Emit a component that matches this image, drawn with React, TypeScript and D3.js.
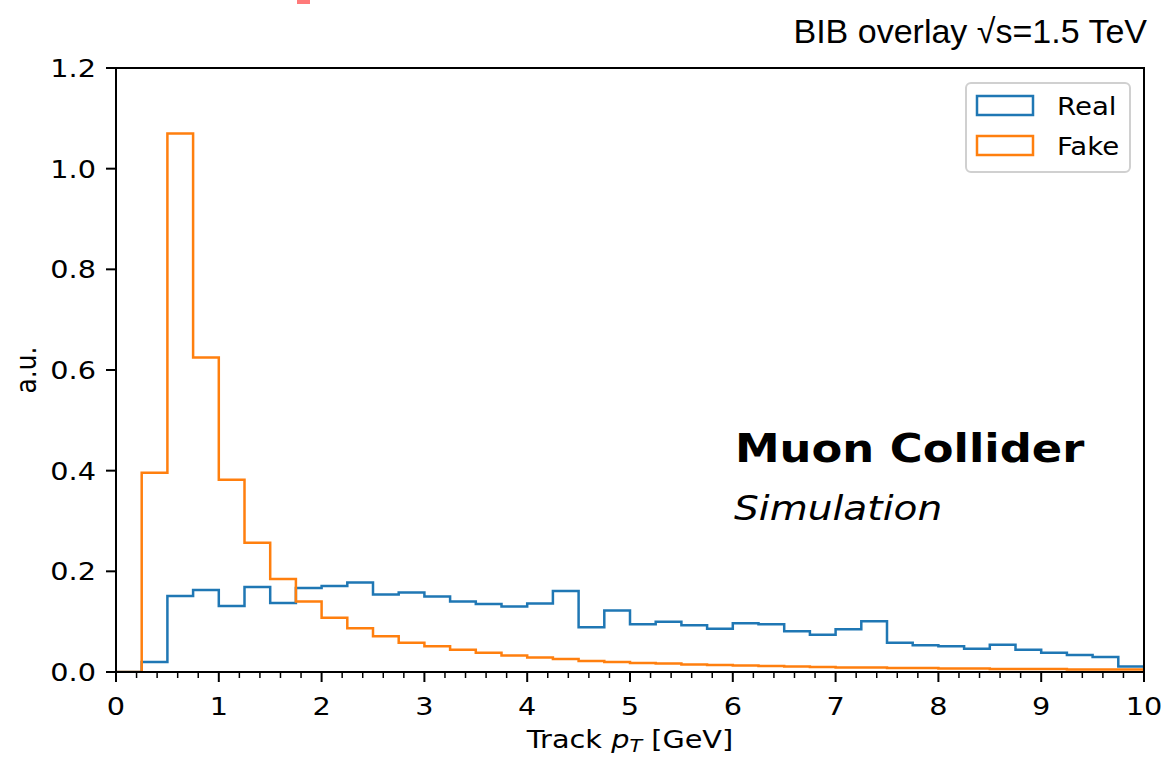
import React from "react";
import * as d3 from "d3";

// Histogram binning: 40 bins of width 0.25 GeV from 0 to 10 GeV
const binLow = 0;
const binWidth = 0.25;

// Normalised track pT distributions (a.u.), one value per bin
const realValues = [
  0, 0.02, 0.151, 0.163, 0.131, 0.169, 0.137, 0.167, 0.171, 0.178,
  0.154, 0.158, 0.15, 0.14, 0.135, 0.13, 0.136, 0.161, 0.089, 0.122,
  0.095, 0.1, 0.093, 0.086, 0.097, 0.095, 0.081, 0.074, 0.085, 0.101,
  0.058, 0.053, 0.051, 0.046, 0.054, 0.044, 0.038, 0.034, 0.03, 0.011,
];
const fakeValues = [
  0, 0.396, 1.07, 0.625, 0.382, 0.257, 0.185, 0.14, 0.108, 0.087,
  0.071, 0.058, 0.051, 0.044, 0.038, 0.033, 0.029, 0.026, 0.022, 0.02,
  0.018, 0.017, 0.015, 0.014, 0.013, 0.012, 0.011, 0.01, 0.009, 0.009,
  0.008, 0.008, 0.007, 0.007, 0.006, 0.006, 0.006, 0.005, 0.005, 0.005,
];

const xMajorTicks = [0, 1, 2, 3, 4, 5, 6, 7, 8, 9, 10];
const yTicks = [0, 0.2, 0.4, 0.6, 0.8, 1.0, 1.2];
const seriesNames = ["Real", "Fake"];

const W = 1162;
const H = 758;
const M = { left: 116, right: 1144, top: 68, bottom: 672 };
const SX = 1.15; // horizontal text stretch
const FONT = "'DejaVu Sans', sans-serif";
const BLUE = "#1f77b4";
const ORANGE = "#ff7f0e";

const x = d3.scaleLinear().domain([0, 10]).range([M.left, M.right]);
const y = d3.scaleLinear().domain([0, 1.2]).range([M.bottom, M.top]);

function stepPath(values: number[]): string {
  const pts: [number, number][] = [];
  pts.push([binLow, 0]);
  values.forEach((v, i) => {
    const x0 = binLow + i * binWidth;
    pts.push([x0, v]);
    pts.push([x0 + binWidth, v]);
  });
  pts.push([binLow + values.length * binWidth, 0]);
  const line = d3
    .line<[number, number]>()
    .x((d) => x(d[0]))
    .y((d) => y(d[1]));
  return line(pts) || "";
}

function Txt(props: {
  x: number;
  y: number;
  size: number;
  anchor?: "start" | "middle" | "end";
  weight?: string;
  italic?: boolean;
  rotate?: number;
  children: React.ReactNode;
}) {
  const { rotate = 0 } = props;
  return (
    <text
      transform={`translate(${props.x},${props.y}) scale(${SX},1)${rotate ? ` rotate(${rotate})` : ""}`}
      textAnchor={props.anchor || "start"}
      fontFamily={FONT}
      fontSize={props.size}
      fontWeight={props.weight || "normal"}
      fontStyle={props.italic ? "italic" : "normal"}
      fill="#000"
    >
      {props.children}
    </text>
  );
}

export default function App() {
  const xMinor = d3.range(0, 10.0001, 0.2).filter(
    (t) => Math.abs(t - Math.round(t)) > 1e-6
  );
  const colors = [BLUE, ORANGE];
  return (
    <svg
      width={W}
      height={H}
      style={{ position: "absolute", left: 0, top: 0, background: "#fff" }}
    >
      <rect x={0} y={0} width={W} height={H} fill="#fff" />
      <rect x={297} y={0} width={13} height={4} fill="#ff7a7a" />

      {/* title */}
      <text
        x={1147}
        y={43}
        textAnchor="end"
        fontFamily="'Liberation Sans', Arial, sans-serif"
        fontSize={34}
        fill="#000"
      >
        BIB overlay √s=1.5 TeV
      </text>

      <defs>
        <clipPath id="plotClip">
          <rect
            x={M.left}
            y={M.top}
            width={M.right - M.left}
            height={M.bottom - M.top}
          />
        </clipPath>
      </defs>

      {/* histograms */}
      <g clipPath="url(#plotClip)" fill="none" strokeWidth={2.5} strokeLinejoin="miter">
        <path d={stepPath(realValues)} stroke={BLUE} />
        <path d={stepPath(fakeValues)} stroke={ORANGE} />
      </g>

      {/* frame */}
      <rect
        x={M.left}
        y={M.top}
        width={M.right - M.left}
        height={M.bottom - M.top}
        fill="none"
        stroke="#000"
        strokeWidth={2}
      />

      {/* x ticks */}
      {xMajorTicks.map((t) => (
        <g key={`xt${t}`}>
          <line x1={x(t)} x2={x(t)} y1={M.bottom} y2={M.bottom + 10} stroke="#000" strokeWidth={2} />
          <Txt x={x(t)} y={715} size={25} anchor="middle">
            {t}
          </Txt>
        </g>
      ))}
      {xMinor.map((t) => (
        <line key={`xm${t}`} x1={x(t)} x2={x(t)} y1={M.bottom} y2={M.bottom + 6} stroke="#000" strokeWidth={1.5} />
      ))}

      {/* y ticks */}
      {yTicks.map((t) => (
        <g key={`yt${t}`}>
          <line x1={M.left - 10} x2={M.left} y1={y(t)} y2={y(t)} stroke="#000" strokeWidth={2} />
          <Txt x={96} y={y(t) + 9} size={25} anchor="end">
            {t.toFixed(1)}
          </Txt>
        </g>
      ))}

      {/* axis labels */}
      <Txt x={630} y={748} size={25} anchor="middle">
        Track <tspan fontStyle="italic">p</tspan>
        <tspan fontStyle="italic" fontSize={18} dy={4}>T</tspan>
        <tspan dy={-4}> [GeV]</tspan>
      </Txt>
      <Txt x={36} y={370} size={25} anchor="middle" rotate={-90}>
        a.u.
      </Txt>

      {/* annotation */}
      <Txt x={735} y={462} size={39} weight="bold">
        Muon Collider
      </Txt>
      <Txt x={734} y={520} size={34} italic>
        Simulation
      </Txt>

      {/* legend */}
      <rect
        x={966}
        y={83}
        width={164}
        height={89}
        rx={5}
        fill="#fff"
        fillOpacity={0.8}
        stroke="#d0d0d0"
        strokeWidth={2}
      />
      {seriesNames.map((name, i) => (
        <g key={name}>
          <rect
            x={977}
            y={96 + i * 40}
            width={56}
            height={19}
            fill="none"
            stroke={colors[i]}
            strokeWidth={2.5}
          />
          <Txt x={1057} y={115 + i * 40} size={24}>
            {name}
          </Txt>
        </g>
      ))}
    </svg>
  );
}
